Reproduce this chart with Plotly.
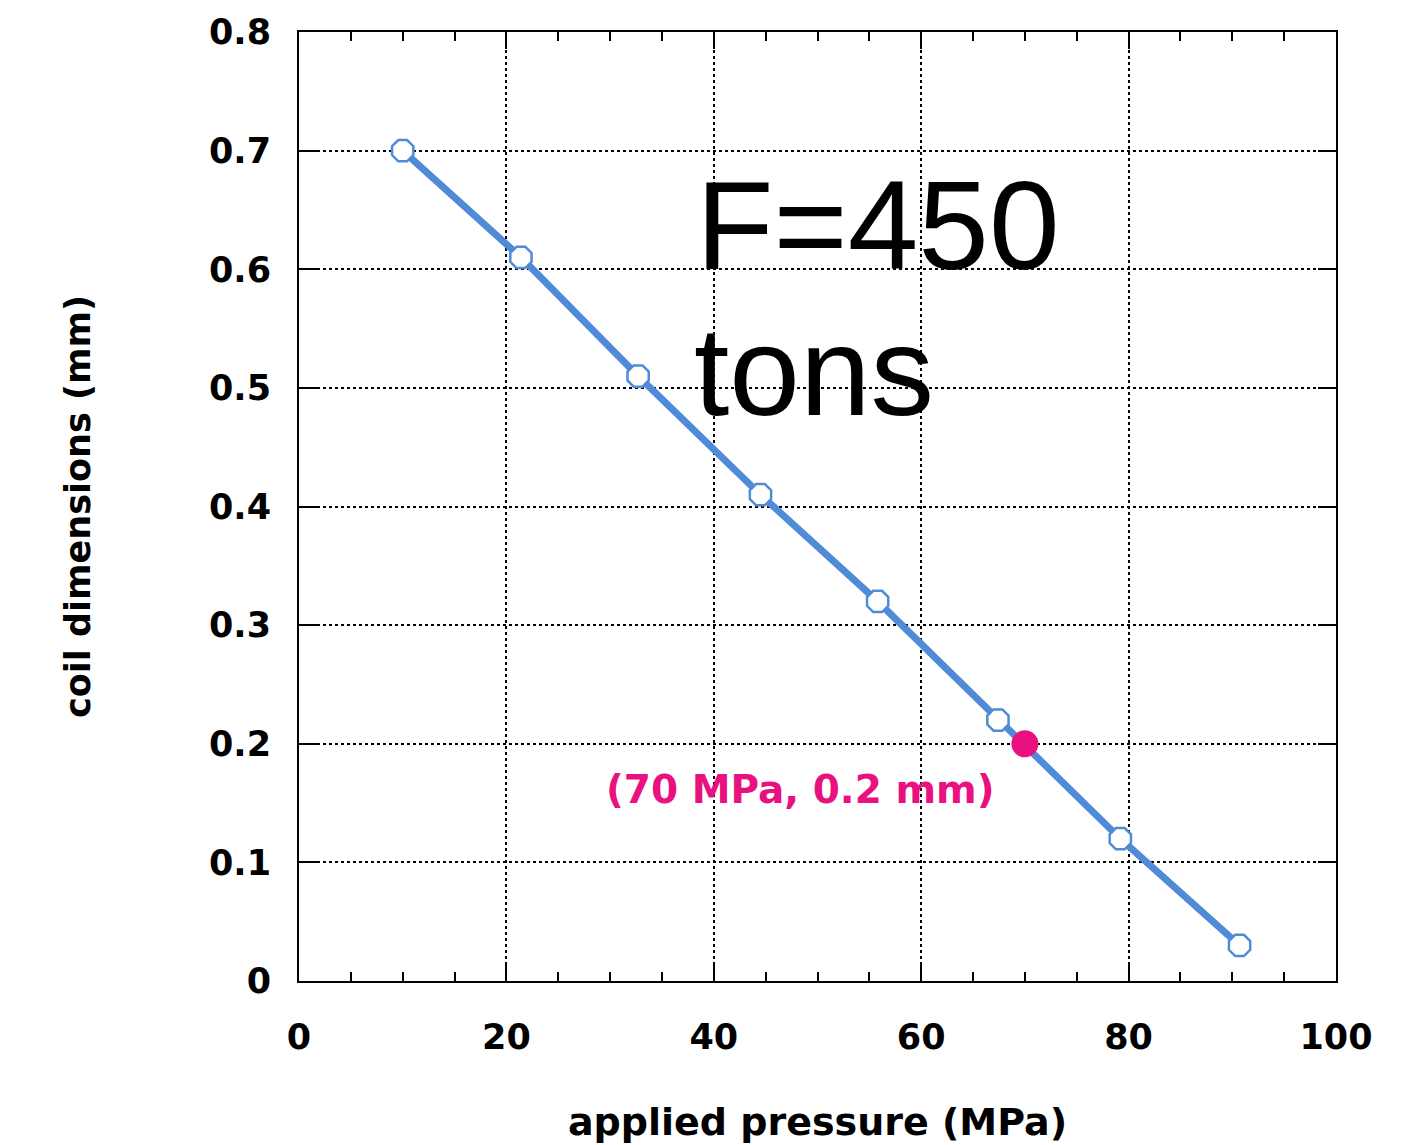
import plotly.graph_objects as go

pressure = [10.0, 21.4, 32.7, 44.5, 55.8, 67.4, 79.2, 90.7]
dimension = [0.70, 0.61, 0.51, 0.41, 0.32, 0.22, 0.12, 0.03]
highlight_x = [70]
highlight_y = [0.2]
highlight_label = "(70 MPa, 0.2 mm)"
x_ticks = [0, 20, 40, 60, 80, 100]
y_ticks = [0, 0.1, 0.2, 0.3, 0.4, 0.5, 0.6, 0.7, 0.8]
y_ticktext = ["0", "0.1", "0.2", "0.3", "0.4", "0.5", "0.6", "0.7", "0.8"]

BLUE = "#4F8BD6"
MAGENTA = "#E8117F"
tickfont = dict(family="DejaVu Sans", size=35, color="black", weight="bold")

fig = go.Figure()
fig.add_trace(go.Scatter(
    x=pressure, y=dimension, mode="lines+markers",
    line=dict(color=BLUE, width=7),
    marker=dict(symbol="octagon", size=23, color="white",
                line=dict(color=BLUE, width=2.5)),
    showlegend=False, cliponaxis=False,
))
fig.add_trace(go.Scatter(
    x=highlight_x, y=highlight_y, mode="markers",
    marker=dict(symbol="circle", size=27, color=MAGENTA, line=dict(width=0)),
    showlegend=False, cliponaxis=False,
))

fig.add_annotation(x=highlight_x[0], y=highlight_y[0], xref="x", yref="y",
                   text=highlight_label, showarrow=False,
                   xshift=-224, yshift=-46,
                   font=dict(family="DejaVu Sans", size=39, color=MAGENTA, weight="bold"))
fig.add_annotation(x=38.1, y=0.637, xref="x", yref="y", text="F=450",
                   showarrow=False, xanchor="left", yanchor="middle",
                   font=dict(family="Liberation Sans", size=127, color="black"))
fig.add_annotation(x=37.9, y=0.514, xref="x", yref="y", text="tons",
                   showarrow=False, xanchor="left", yanchor="middle",
                   font=dict(family="Liberation Sans", size=127, color="black"))

fig.update_xaxes(
    range=[0, 100], tickvals=x_ticks, ticks="inside", ticklen=17, tickwidth=2,
    tickcolor="black", showline=True, linecolor="black", linewidth=2,
    mirror="ticks", showgrid=True, gridcolor="black", griddash="dot", gridwidth=1.5,
    zeroline=False, tickfont=tickfont, ticklabelstandoff=24, automargin=False,
    minor=dict(dtick=5, ticks="inside", ticklen=9, tickwidth=2, tickcolor="black",
               showgrid=False),
    title=dict(text="applied pressure (MPa)", standoff=52,
               font=dict(family="DejaVu Sans", size=38, color="black", weight="bold")),
)
fig.update_yaxes(
    range=[0, 0.8], tickvals=y_ticks, ticktext=y_ticktext, ticks="inside",
    ticklen=18, tickwidth=2, tickcolor="black", showline=True, linecolor="black",
    linewidth=2, mirror="ticks", showgrid=True, gridcolor="black", griddash="dot",
    gridwidth=1.5, zeroline=False, tickfont=tickfont, ticklabelstandoff=19,
    automargin=False,
    title=dict(text="coil dimensions (mm)", standoff=108,
               font=dict(family="DejaVu Sans", size=35, color="black", weight="bold")),
)

fig.update_layout(
    width=1415, height=1145,
    margin=dict(l=291, r=87, t=24, b=172),
    plot_bgcolor="white", paper_bgcolor="white",
)
fig.write_html("out.html")
